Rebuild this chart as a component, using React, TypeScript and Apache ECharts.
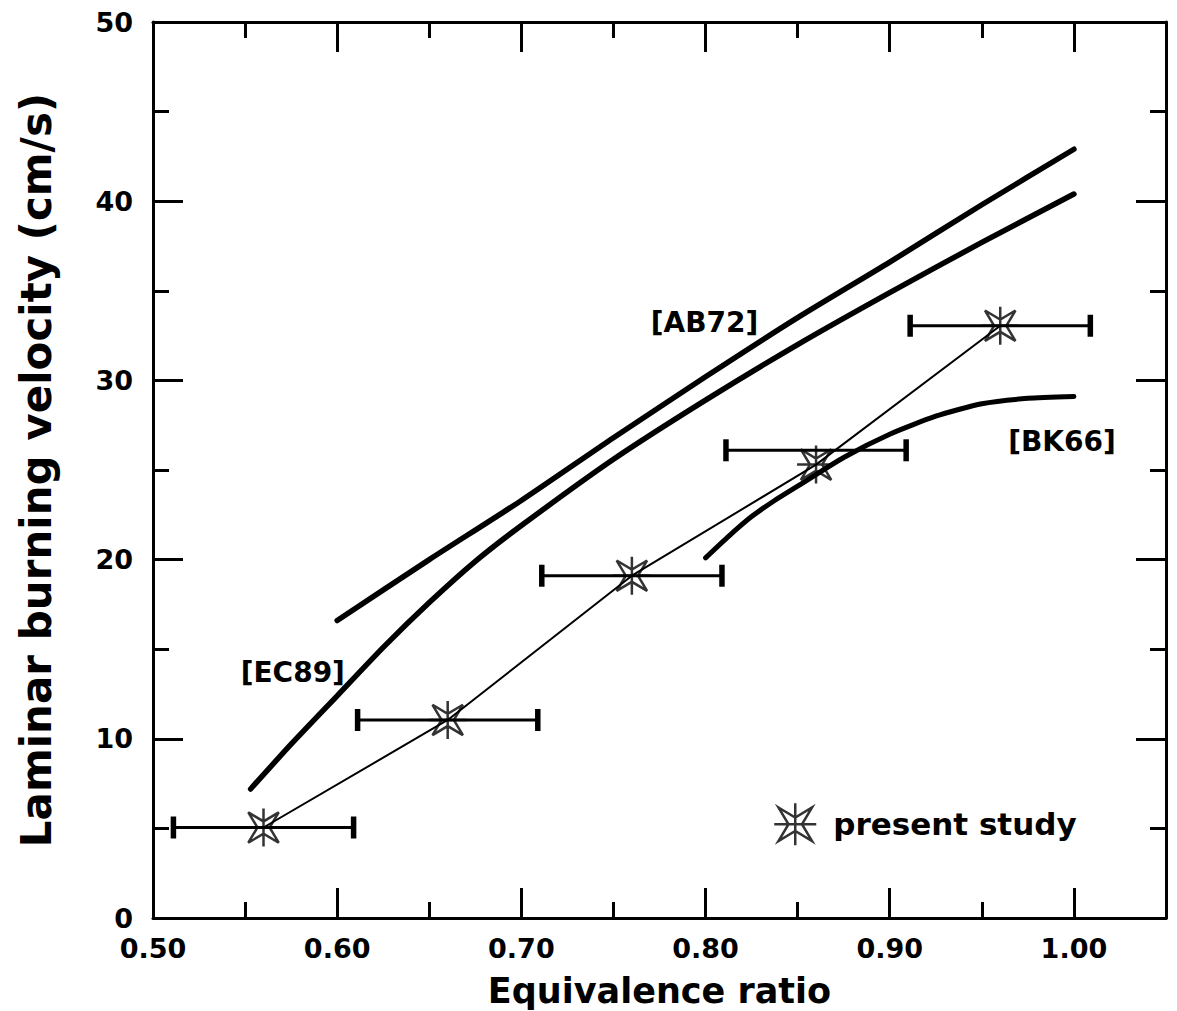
import React, { useEffect, useRef } from "react";
import * as echarts from "echarts";

// ---- data ----
const ab72X = [0.6, 0.65, 0.7, 0.75, 0.8, 0.85, 0.9, 0.95, 1.0];
const ab72Y = [16.6, 20.0, 23.3, 26.8, 30.2, 33.5, 36.6, 39.8, 42.9];

const ec89X = [0.553, 0.575, 0.6, 0.625, 0.65, 0.675, 0.7, 0.75, 0.8, 0.85, 0.9, 0.95, 1.0];
const ec89Y = [7.2, 9.7, 12.4, 15.1, 17.6, 19.9, 21.9, 25.6, 28.9, 32.0, 34.9, 37.7, 40.4];

const bk66X = [0.8, 0.8125, 0.825, 0.8375, 0.85, 0.875, 0.9, 0.925, 0.95, 0.975, 1.0];
const bk66Y = [20.1, 21.3, 22.4, 23.3, 24.1, 25.7, 27.0, 28.0, 28.7, 29.0, 29.1];

const studyX = [0.56, 0.66, 0.76, 0.86, 0.96];
const studyY = [5.05, 11.05, 19.1, 25.3, 33.05];
const errBarY = [5.05, 11.05, 19.1, 26.1, 33.05];
const errHalf = [0.05, 0.05, 0.05, 0.05, 0.05];

const refNames = ["[AB72]", "[EC89]", "[BK66]"];
const refX = [0.7994, 0.5759, 0.9935];
const refY = [33.24, 13.72, 26.6];

const xMin = 0.5;
const xMax = 1.05;
const xMajor = 0.1;
const xMinor = 0.05;
const yMin = 0;
const yMax = 50;
const yMajor = 10;

const xTitle = "Equivalence ratio";
const yTitle = "Laminar burning velocity (cm/s)";
const legendName = "present study";

const FONT = '"DejaVu Sans", sans-serif';
const STAR =
  "path://M10,10 L50,34 L90,10 L66,50 L90,90 L50,66 L10,90 L34,50 Z M50,0 L50,100 M0,50 L100,50";

export default function App() {
  const ref = useRef<HTMLDivElement>(null);
  useEffect(() => {
    if (!ref.current) return;
    const chart = echarts.init(ref.current, undefined, { renderer: "svg" });

    const zip = (xs: number[], ys: number[]) => xs.map((x, i) => [x, ys[i]]);
    const errData = studyX.map((x, i) => [x - errHalf[i], errBarY[i], x + errHalf[i]]);

    const axisLine = { show: true, lineStyle: { color: "#000", width: 3 } };
    const majorTick = { show: true, inside: true, length: 30, lineStyle: { color: "#000", width: 3 } };
    const minorTickAx = { show: true, inside: true, length: 16, lineStyle: { color: "#000", width: 3 } };

    const xBase = { type: "value", min: xMin, max: xMax, splitLine: { show: false }, gridIndex: 0 };
    const yBase = { type: "value", min: yMin, max: yMax, splitLine: { show: false }, gridIndex: 0 };

    const curveStyle = (w: number) => ({ color: "#000", width: w, cap: "round", join: "round" });

    const option: any = {
      animation: false,
      backgroundColor: "#fff",
      grid: { left: 153, right: 11, top: 22, bottom: 93, containLabel: false, outerBoundsMode: "none" },
      legend: {
        data: [
          {
            name: legendName,
            icon: STAR,
            itemStyle: { color: "rgba(255,255,255,0)", borderColor: "#000", borderWidth: 2.5 },
          },
        ],
        left: 768,
        top: 797,
        itemWidth: 42,
        itemHeight: 42,
        textStyle: {
          fontFamily: FONT,
          fontWeight: "bold",
          fontSize: 31,
          color: "#000",
          padding: [0, 0, 0, 12],
        },
      },
      xAxis: [
        {
          ...xBase,
          position: "bottom",
          interval: xMajor,
          axisLine,
          axisTick: majorTick,
          axisLabel: {
            margin: 17,
            color: "#000",
            fontFamily: FONT,
            fontWeight: "bold",
            fontSize: 27,
            formatter: (v: number) => (v > 1.0001 ? "" : v.toFixed(2)),
          },
          name: xTitle,
          nameLocation: "middle",
          nameGap: 56,
          nameTextStyle: { fontFamily: FONT, fontWeight: "bold", fontSize: 35, lineHeight: 34, color: "#000" },
        },
        {
          ...xBase,
          position: "bottom",
          interval: xMinor,
          axisLine: { show: false },
          axisTick: minorTickAx,
          axisLabel: { show: false },
        },
        {
          ...xBase,
          position: "top",
          interval: xMajor,
          axisLine,
          axisTick: majorTick,
          axisLabel: { show: false },
        },
        {
          ...xBase,
          position: "top",
          interval: xMinor,
          axisLine: { show: false },
          axisTick: minorTickAx,
          axisLabel: { show: false },
        },
      ],
      yAxis: [
        {
          ...yBase,
          position: "left",
          interval: yMajor,
          axisLine,
          axisTick: majorTick,
          minorTick: { show: true, splitNumber: 2, length: 16, lineStyle: { color: "#000", width: 3 } },
          minorSplitLine: { show: false },
          axisLabel: {
            margin: 20,
            color: "#000",
            fontFamily: FONT,
            fontWeight: "bold",
            fontSize: 27,
          },
          name: yTitle,
          nameLocation: "middle",
          nameGap: 96,
          nameTextStyle: { fontFamily: FONT, fontWeight: "bold", fontSize: 42, color: "#000" },
        },
        {
          ...yBase,
          position: "right",
          interval: yMajor,
          axisLine,
          axisTick: majorTick,
          minorTick: { show: true, splitNumber: 2, length: 16, lineStyle: { color: "#000", width: 3 } },
          minorSplitLine: { show: false },
          axisLabel: { show: false },
        },
      ],
      series: [
        {
          name: "AB72",
          type: "line",
          data: zip(ab72X, ab72Y),
          smooth: 0.2,
          showSymbol: false,
          lineStyle: curveStyle(5.5),
          xAxisIndex: 0,
          yAxisIndex: 0,
          z: 3,
        },
        {
          name: "EC89",
          type: "line",
          data: zip(ec89X, ec89Y),
          smooth: 0.2,
          showSymbol: false,
          lineStyle: curveStyle(5.5),
          xAxisIndex: 0,
          yAxisIndex: 0,
          z: 3,
        },
        {
          name: "BK66",
          type: "line",
          data: zip(bk66X, bk66Y),
          smooth: 0.2,
          showSymbol: false,
          lineStyle: curveStyle(5),
          xAxisIndex: 0,
          yAxisIndex: 0,
          z: 3,
        },
        {
          name: "errorbars",
          type: "custom",
          xAxisIndex: 0,
          yAxisIndex: 0,
          data: errData,
          encode: { x: [0, 2], y: 1 },
          renderItem: (params: any, api: any) => {
            const y = api.value(1);
            const lo = api.coord([api.value(0), y]);
            const hi = api.coord([api.value(2), y]);
            const st = { stroke: "#000", lineWidth: 3 };
            const cap = { stroke: "#000", lineWidth: 5.5 };
            return {
              type: "group",
              children: [
                { type: "line", shape: { x1: lo[0], y1: lo[1], x2: hi[0], y2: hi[1] }, style: st },
                { type: "line", shape: { x1: lo[0] + 2, y1: lo[1] - 11, x2: lo[0] + 2, y2: lo[1] + 11 }, style: cap },
                { type: "line", shape: { x1: hi[0] - 2, y1: hi[1] - 11, x2: hi[0] - 2, y2: hi[1] + 11 }, style: cap },
              ],
            };
          },
          z: 4,
        },
        {
          name: "connector",
          type: "line",
          data: zip(studyX, studyY),
          showSymbol: false,
          lineStyle: { color: "#000", width: 2 },
          xAxisIndex: 0,
          yAxisIndex: 0,
          z: 4,
        },
        {
          name: legendName,
          type: "scatter",
          data: zip(studyX, studyY),
          symbol: STAR,
          symbolSize: 38,
          itemStyle: { color: "rgba(255,255,255,0)", borderColor: "#000", borderWidth: 2.5 },
          xAxisIndex: 0,
          yAxisIndex: 0,
          z: 5,
        },
        {
          name: "refLabels",
          type: "scatter",
          data: refNames.map((n, i) => ({ name: n, value: [refX[i], refY[i]] })),
          symbolSize: 1,
          itemStyle: { color: "rgba(0,0,0,0)" },
          label: {
            show: true,
            position: "inside",
            formatter: "{b}",
            fontFamily: FONT,
            fontWeight: "bold",
            fontSize: 28,
            color: "#000",
            opacity: 1,
            textBorderWidth: 0,
          },
          xAxisIndex: 0,
          yAxisIndex: 0,
          z: 6,
        },
      ],
    };
    chart.setOption(option);
    return () => chart.dispose();
  }, []);
  return (
    <div
      ref={ref}
      style={{ position: "absolute", left: 0, top: 0, width: 1177, height: 1011, background: "#fff" }}
    />
  );
}
